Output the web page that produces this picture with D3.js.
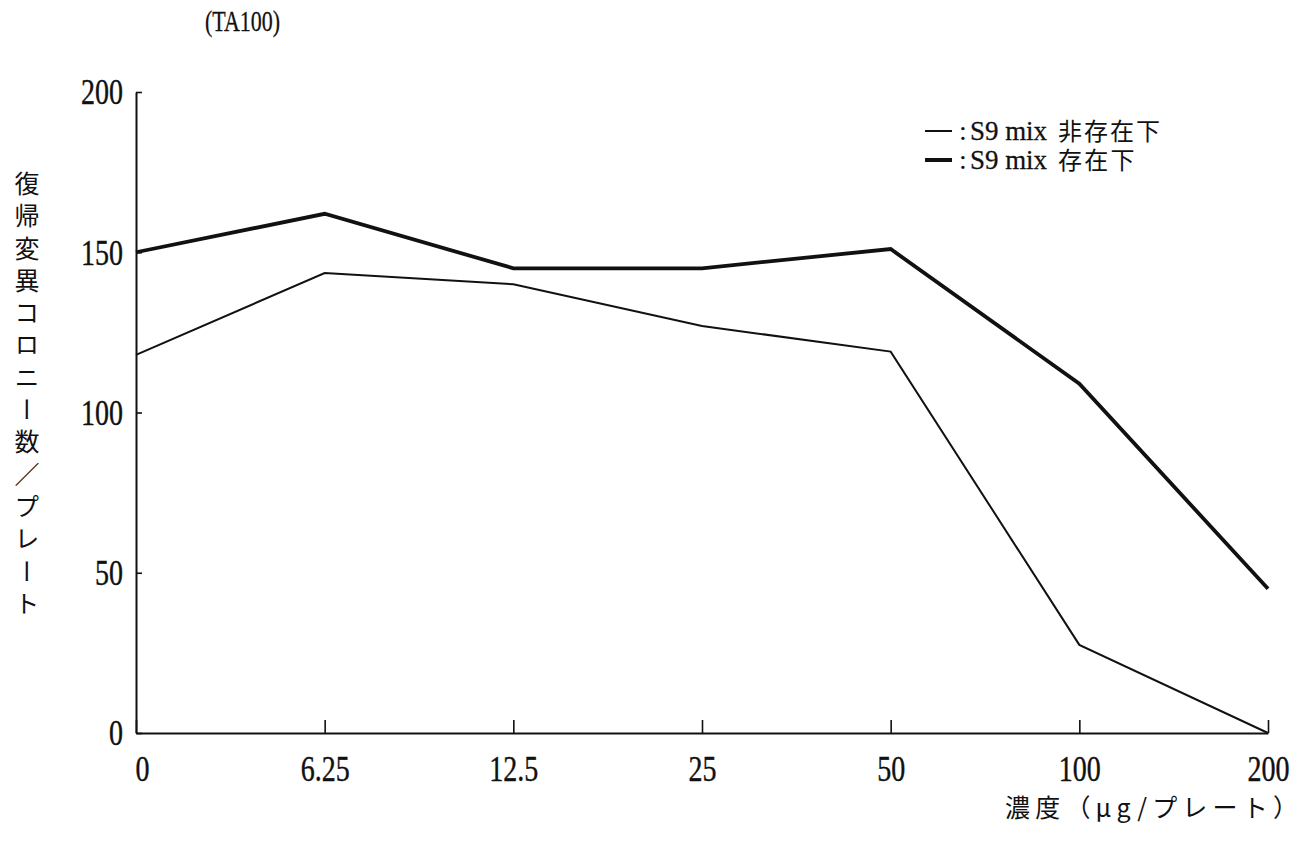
<!DOCTYPE html>
<html>
<head>
<meta charset="utf-8">
<script src="https://cdn.jsdelivr.net/npm/d3@7"></script>
<style>
  html, body { margin: 0; padding: 0; background: #fff; }
  svg { display: block; }
</style>
</head>
<body>
<svg id="chart" width="1301" height="852"></svg>
<script>
// ---- data ----
const categories = ["0", "6.25", "12.5", "25", "50", "100", "200"];
const withoutS9 = [118, 143.5, 140, 127, 119, 27.5, 0]; // thin line: S9 mix 非存在下
const withS9    = [150, 162, 145, 145, 151, 109, 45];   // thick line: S9 mix 存在下
const yTicks = [0, 50, 100, 150, 200];
const titleText = "(TA100)";
const yTitle = "復帰変異コロニー数／プレート";
const xTitle = "濃度（μg/プレート）";
const legendLabels = ["S9 mix", "S9 mix"];
const legendCJK = ["非存在下", "存在下"];

// ---- drawing ----
const svg = d3.select("#chart");
const serif = "'Liberation Serif', 'DejaVu Serif', serif";
const cjk = "'Noto Sans CJK JP', 'Noto Sans CJK SC', sans-serif";
const SX = 0.8;
const INK = "#111";

const x = d3.scalePoint().domain(categories).range([136, 1268]).padding(0);
const y = d3.scaleLinear().domain([0, 200]).range([733, 92]);

// y axis
const gy = svg.append("g").attr("transform", "translate(136,0)")
  .call(d3.axisLeft(y).tickValues(yTicks).tickSize(-6).tickSizeOuter(0).tickFormat(d3.format("d")));
gy.select(".domain").attr("stroke", INK).attr("stroke-width", 2);
gy.selectAll(".tick line").attr("stroke", INK).attr("stroke-width", 1.6);
gy.selectAll(".tick text")
  .attr("font-family", serif).attr("font-size", 35).attr("fill", INK)
  .attr("stroke", INK).attr("stroke-width", 0.4)
  .attr("x", -13 / SX).attr("dy", "0.34em")
  .attr("transform", `scale(${SX},1)`);

// x axis
const gx = svg.append("g").attr("transform", `translate(0,${y(0)})`)
  .call(d3.axisBottom(x).tickSize(-13).tickSizeOuter(0));
gx.select(".domain").attr("stroke", INK).attr("stroke-width", 2);
gx.selectAll(".tick line").attr("stroke", INK).attr("stroke-width", 1.6);
gx.selectAll(".tick text")
  .attr("font-family", serif).attr("font-size", 35).attr("fill", INK)
  .attr("stroke", INK).attr("stroke-width", 0.4)
  .attr("y", 36).attr("dy", "0.34em")
  .attr("transform", `scale(${SX},1)`)
  .attr("x", (d, i) => (i === 0 ? 6 : 0) / SX);

// lines
const line = d3.line().x((d, i) => x(categories[i])).y(d => y(d));
svg.append("path").datum(withoutS9).attr("d", line)
  .attr("fill", "none").attr("stroke", INK).attr("stroke-width", 2).attr("stroke-linejoin", "miter");
svg.append("path").datum(withS9).attr("d", line)
  .attr("fill", "none").attr("stroke", INK).attr("stroke-width", 3.8).attr("stroke-linejoin", "miter");

// title
svg.append("text")
  .attr("font-family", serif).attr("font-size", 30).attr("fill", INK)
  .attr("stroke", INK).attr("stroke-width", 0.3)
  .attr("transform", `translate(205,31)`)
  .attr("textLength", 75).attr("lengthAdjust", "spacingAndGlyphs")
  .text(titleText);

// y title (vertical writing)
svg.append("text")
  .attr("font-family", cjk).attr("font-size", 25).attr("fill", INK)
  .attr("x", 27).attr("y", 171)
  .style("writing-mode", "vertical-rl")
  .style("letter-spacing", "7.3px")
  .text(yTitle);

// x title
svg.append("text")
  .attr("font-family", cjk).attr("font-size", 25).attr("fill", INK)
  .attr("x", 1005).attr("y", 817)
  .attr("textLength", 293).attr("lengthAdjust", "spacing")
  .text(xTitle);

// legend
const legendY = [131, 160];
const legendW = [2, 4];
const lg = svg.append("g");
legendY.forEach((ly, i) => {
  lg.append("line").attr("x1", 925).attr("x2", 952).attr("y1", ly).attr("y2", ly)
    .attr("stroke", INK).attr("stroke-width", legendW[i]);
  lg.append("text").attr("font-family", serif).attr("font-size", 28).attr("fill", INK)
    .attr("x", 959).attr("y", ly + 9)
    .text(":");
  lg.append("text").attr("font-family", serif).attr("font-size", 28).attr("fill", INK)
    .attr("stroke", INK).attr("stroke-width", 0.3)
    .attr("x", 970).attr("y", ly + 9)
    .attr("textLength", 77).attr("lengthAdjust", "spacingAndGlyphs")
    .text(legendLabels[i]);
  lg.append("text").attr("font-family", cjk).attr("font-size", 24).attr("fill", INK)
    .attr("x", 1058).attr("y", ly + 9)
    .attr("textLength", legendCJK[i].length * 25.5).attr("lengthAdjust", "spacing")
    .text(legendCJK[i]);
});
</script>
</body>
</html>
